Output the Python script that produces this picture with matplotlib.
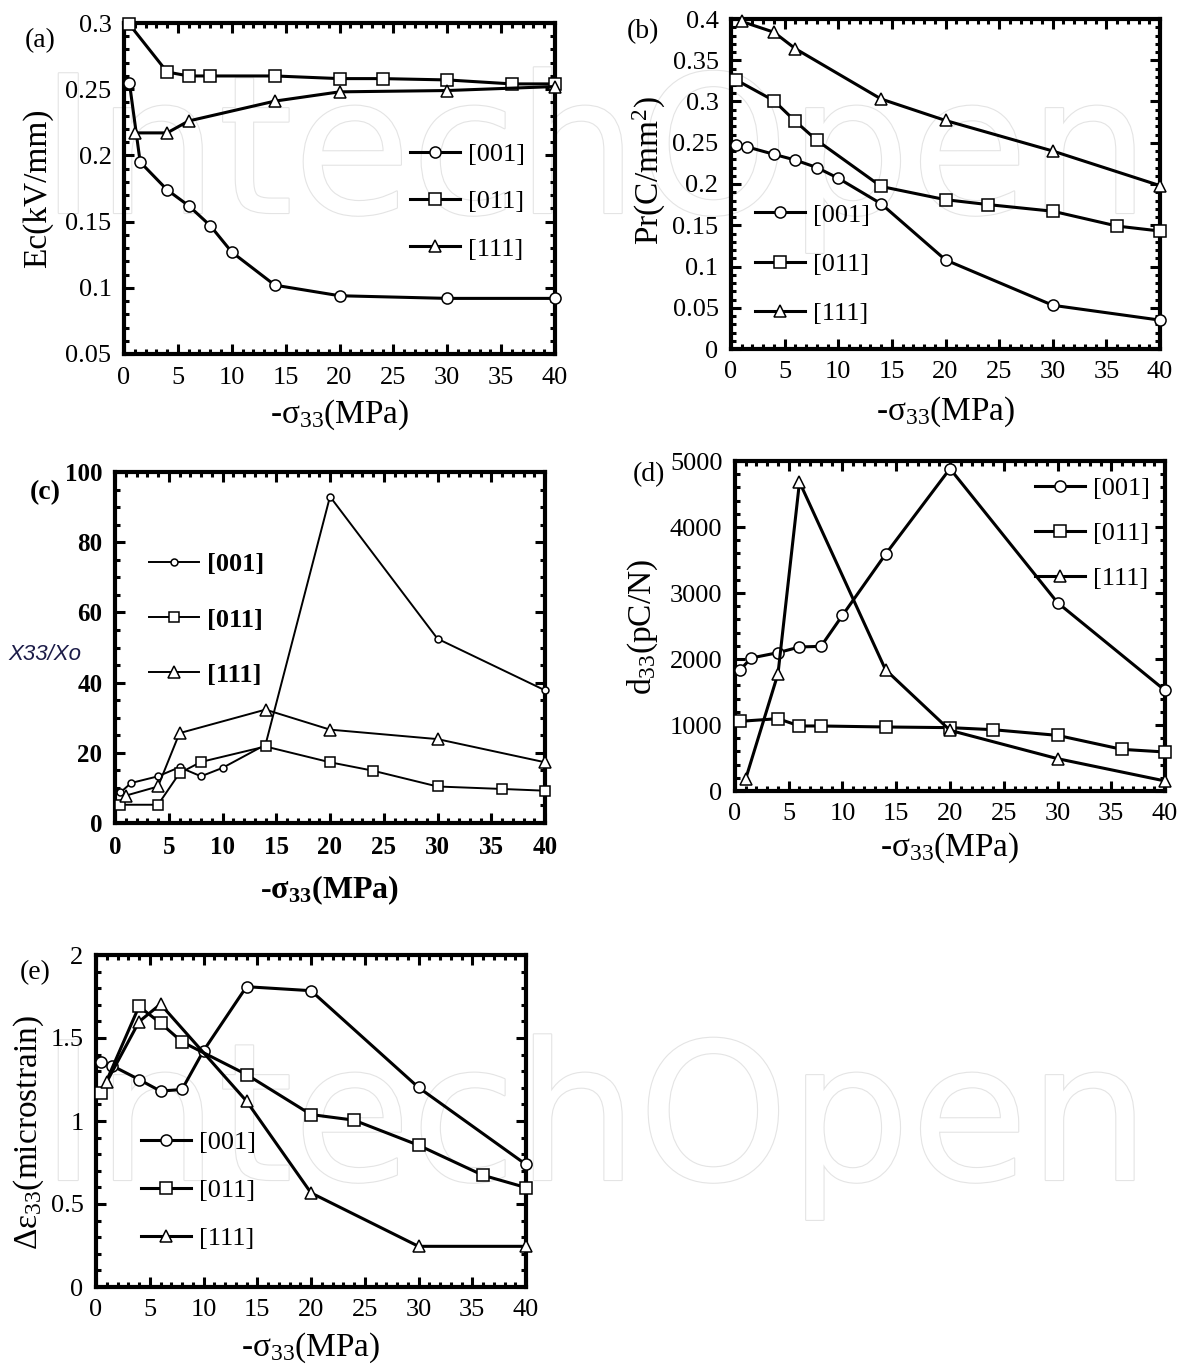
import matplotlib
matplotlib.use('Agg')
import matplotlib.pyplot as plt
import matplotlib.patheffects as pe
from matplotlib.ticker import MultipleLocator, FuncFormatter

plt.rcParams['font.family'] = ['Liberation Serif', 'DejaVu Serif']
plt.rcParams['mathtext.fontset'] = 'custom'
plt.rcParams['mathtext.rm'] = 'Liberation Serif'
plt.rcParams['mathtext.it'] = 'Liberation Serif:italic'
plt.rcParams['mathtext.bf'] = 'Liberation Serif:bold'

# stress values (MPa) for each orientation
x_001 = [0.5, 1.5, 4, 6, 8, 10, 14, 20, 30, 40]
x_011 = [0.5, 4, 6, 8, 14, 20, 24, 30, 36, 40]
x_111 = [1, 4, 6, 14, 20, 30, 40]
labels = ['[001]', '[011]', '[111]']

# (a) coercive field
ec_001 = [0.255, 0.195, 0.174, 0.162, 0.147, 0.127, 0.102, 0.094, 0.092, 0.092]
ec_011 = [0.299, 0.263, 0.260, 0.260, 0.260, 0.258, 0.258, 0.257, 0.254, 0.254]
ec_111 = [0.217, 0.217, 0.226, 0.241, 0.248, 0.249, 0.252]

# (b) remanent polarization
pr_001 = [0.247, 0.245, 0.236, 0.229, 0.220, 0.207, 0.176, 0.108, 0.053, 0.035]
pr_011 = [0.326, 0.301, 0.276, 0.253, 0.197, 0.181, 0.175, 0.167, 0.149, 0.143]
pr_111 = [0.397, 0.384, 0.364, 0.303, 0.277, 0.240, 0.198]

# (c) relative susceptibility
chi_001 = [8.7, 11.4, 13.3, 15.9, 13.3, 15.7, 22.3, 93, 52.5, 37.8]
chi_011 = [5.2, 5.2, 14.2, 17.4, 21.8, 17.3, 14.9, 10.4, 9.7, 9.2]
chi_111 = [7.8, 10.4, 25.6, 32.3, 26.6, 23.9, 17.3]

# (d) piezoelectric coefficient
d_001 = [1838, 2015, 2096, 2182, 2192, 2662, 3586, 4884, 2854, 1525]
d_011 = [1056, 1096, 985, 985, 970, 960, 929, 843, 631, 591]
d_111 = [187, 1778, 4682, 1838, 919, 490, 152]

# (e) strain change
de_001 = [1.353, 1.333, 1.25, 1.18, 1.19, 1.423, 1.809, 1.785, 1.202, 0.738]
de_011 = [1.17, 1.69, 1.59, 1.477, 1.28, 1.039, 1.005, 0.854, 0.673, 0.599]
de_111 = [1.236, 1.598, 1.704, 1.12, 0.567, 0.245, 0.245]

W, H = 1184, 1367
fig = plt.figure(figsize=(W / 100, H / 100), dpi=100)

# faint watermark behind the panels
for base in [213, 1180]:
    fig.text(40 / W, 1 - base / H, 'IntechOpen', fontsize=138, family='DejaVu Sans',
             color='white', ha='left', va='baseline', zorder=-1,
             path_effects=[pe.Stroke(linewidth=1.6, foreground='#e4e4e4'), pe.Normal()])


def make_axes(box, ylim, ymaj, ymin, bold=False):
    l, r, t, b = box
    ax = fig.add_axes([l / W, 1 - b / H, (r - l) / W, (b - t) / H])
    ax.set_facecolor('none')
    ax.set_xlim(0, 40)
    ax.set_ylim(*ylim)
    ax.xaxis.set_major_locator(MultipleLocator(5))
    ax.xaxis.set_minor_locator(MultipleLocator(1))
    ax.yaxis.set_major_locator(MultipleLocator(ymaj))
    ax.yaxis.set_minor_locator(MultipleLocator(ymin))
    fmt = FuncFormatter(lambda v, p: '%g' % round(v, 6))
    ax.xaxis.set_major_formatter(fmt)
    ax.yaxis.set_major_formatter(fmt)
    ax.tick_params(which='both', direction='in', top=True, right=True, width=2.2,
                   labelsize=18 if bold else 19, pad=9)
    ax.tick_params(which='major', length=7)
    ax.tick_params(which='minor', length=3.5)
    for s in ax.spines.values():
        s.set_linewidth(3)
    if bold:
        for t_ in ax.get_xticklabels() + ax.get_yticklabels():
            t_.set_fontweight('bold')
    return ax


def draw(ax, ys, ms=(8, 8, 9), lw=2.2):
    xs = [x_001, x_011, x_111]
    marks = ['o', 's', '^']
    for x, y, m, s, lab in zip(xs, ys, marks, ms, labels):
        ax.plot(x, y, '-', color='black', lw=lw, marker=m, ms=s, mfc='white',
                mec='black', mew=1.1, clip_on=False, label=lab, zorder=3)


def add_legend(ax, x0, yc, spacing, bold=False, hl=1.9):
    leg = ax.legend(loc='center left', bbox_to_anchor=(x0, yc), frameon=False,
                    handlelength=hl, handletextpad=0.3,
                    labelspacing=spacing, borderpad=0, borderaxespad=0, numpoints=1,
                    prop={'weight': 'bold' if bold else 'normal', 'size': 19})
    return leg


def labels_for(ax, xl_y, yl_text, yl_x, yl_y, bold=False, rot=90, ylsize=24):
    w = 'bold' if bold else 'normal'
    if bold:
        ax.set_xlabel('-σ$_{\\mathbf{33}}$(MPa)', fontsize=23, fontweight=w, va='center')
    else:
        ax.set_xlabel('-σ$_{33}$(MPa)', fontsize=24, va='center')
    ax.xaxis.set_label_coords(0.5, xl_y)
    ax.set_ylabel(yl_text, fontsize=ylsize, rotation=rot, va='center', ha='center')
    ax.yaxis.set_label_coords(yl_x, yl_y)


# (a)
ax = make_axes((124, 555, 23, 354), (0.05, 0.3), 0.05, 0.01)
draw(ax, [ec_001, ec_011, ec_111])
add_legend(ax, 0.664, 0.46, 0.9)
labels_for(ax, -0.184, 'Ec(kV/mm)', -0.2, 0.5)
fig.text(40 / W, 1 - 41 / H, '(a)', fontsize=20, ha='center', va='center')

# (b)
ax = make_axes((731, 1160, 19, 349), (0, 0.4), 0.05, 0.01)
draw(ax, [pr_001, pr_011, pr_111])
add_legend(ax, 0.056, 0.257, 0.98)
labels_for(ax, -0.191, 'Pr(C/mm$^{2}$)', -0.191, 0.54)
fig.text(643 / W, 1 - 32 / H, '(b)', fontsize=20, ha='center', va='center')

# (c)
ax = make_axes((115, 545, 472, 823), (0, 100), 20, 5, bold=True)
draw(ax, [chi_001, chi_011, chi_111], ms=(5, 7.5, 8), lw=1.4)
add_legend(ax, 0.078, 0.579, 1.2, bold=True)
labels_for(ax, -0.191, 'X33/Xo', -0.163, 0.479, bold=True, rot=0, ylsize=16)
ax.yaxis.label.set_family(['Liberation Sans', 'DejaVu Sans'])
ax.yaxis.label.set_style('italic')
ax.yaxis.label.set_color('#1c1c48')
ax.yaxis.label.set_fontweight('normal')
fig.text(45 / W, 1 - 493 / H, '(c)', fontsize=20, fontweight='bold', ha='center', va='center')

# (d)
ax = make_axes((735, 1165, 461, 791), (0, 5000), 1000, 200)
draw(ax, [d_001, d_011, d_111])
add_legend(ax, 0.698, 0.78, 0.82)
labels_for(ax, -0.173, 'd$_{33}$(pC/N)', -0.214, 0.497)
fig.text(649 / W, 1 - 475 / H, '(d)', fontsize=20, ha='center', va='center')

# (e)
ax = make_axes((96, 526, 955, 1287), (0, 2), 0.5, 0.1)
draw(ax, [de_001, de_011, de_111])
add_legend(ax, 0.105, 0.29, 0.93)
labels_for(ax, -0.184, 'Δε$_{33}$(microstrain)', -0.156, 0.464)
fig.text(35 / W, 1 - 973 / H, '(e)', fontsize=20, ha='center', va='center')

fig.savefig('out.png', dpi=100)
